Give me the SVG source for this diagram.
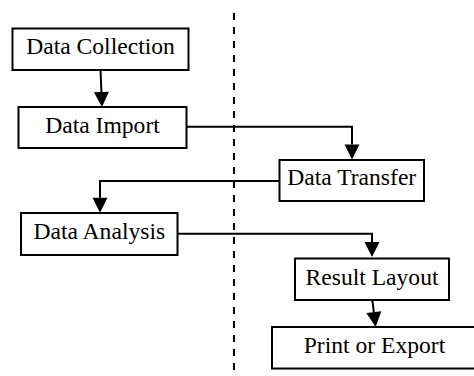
<svg xmlns="http://www.w3.org/2000/svg" width="474" height="376" viewBox="0 0 474 376">
<style>
.box{fill:#fff;stroke:#000;stroke-width:2}
.lbl{font-family:'Liberation Serif','Times New Roman',Times,'DejaVu Serif',serif;font-size:23.6px;fill:#000;text-anchor:middle}
.con{fill:none;stroke:#000;stroke-width:2}
.div{fill:none;stroke:#000;stroke-width:2;stroke-dasharray:7 7}
</style>
<defs>
<marker id="ah" markerUnits="userSpaceOnUse" markerWidth="16" markerHeight="16" refX="0" refY="7.5" orient="auto" overflow="visible">
<path d="M0,0 L15,7.5 L0,15 Z" fill="#000"/>
</marker>
</defs>
<line class="div" x1="234" y1="13" x2="234" y2="370"/>
<g id="connectors">
<path class="con" d="M100.5,70 L101.4,92" marker-end="url(#ah)"/>
<path class="con" d="M187,126.7 L352,126.7 L352,144.5" marker-end="url(#ah)"/>
<path class="con" d="M279.5,181 L100,181 L100,197.7" marker-end="url(#ah)"/>
<path class="con" d="M178,233.7 L372,233.7 L372,242" marker-end="url(#ah)"/>
<path class="con" d="M372.3,300 L373.8,312.1" marker-end="url(#ah)"/>
</g>
<g id="n1"><rect class="box" x="12.5" y="28.5" width="176" height="41.5"/><text class="lbl" x="100.5" y="54.3" font-family="Liberation Serif, serif">Data Collection</text></g>
<g id="n2"><rect class="box" x="18.5" y="107" width="168" height="41"/><text class="lbl" x="102.5" y="132.7" font-family="Liberation Serif, serif">Data Import</text></g>
<g id="n3"><rect class="box" x="279.5" y="160" width="144.5" height="41"/><text class="lbl" x="351.7" y="185" font-family="Liberation Serif, serif">Data Transfer</text></g>
<g id="n4"><rect class="box" x="21" y="213" width="156.5" height="42"/><text class="lbl" x="99.3" y="239.3" font-family="Liberation Serif, serif">Data Analysis</text></g>
<g id="n5"><rect class="box" x="295" y="258.5" width="154" height="41.5"/><text class="lbl" x="372" y="284.7" font-family="Liberation Serif, serif">Result Layout</text></g>
<g id="n6"><rect class="box" x="272" y="327" width="206" height="41.5"/><text class="lbl" x="374.5" y="353.3" font-family="Liberation Serif, serif">Print or Export</text></g>
</svg>
